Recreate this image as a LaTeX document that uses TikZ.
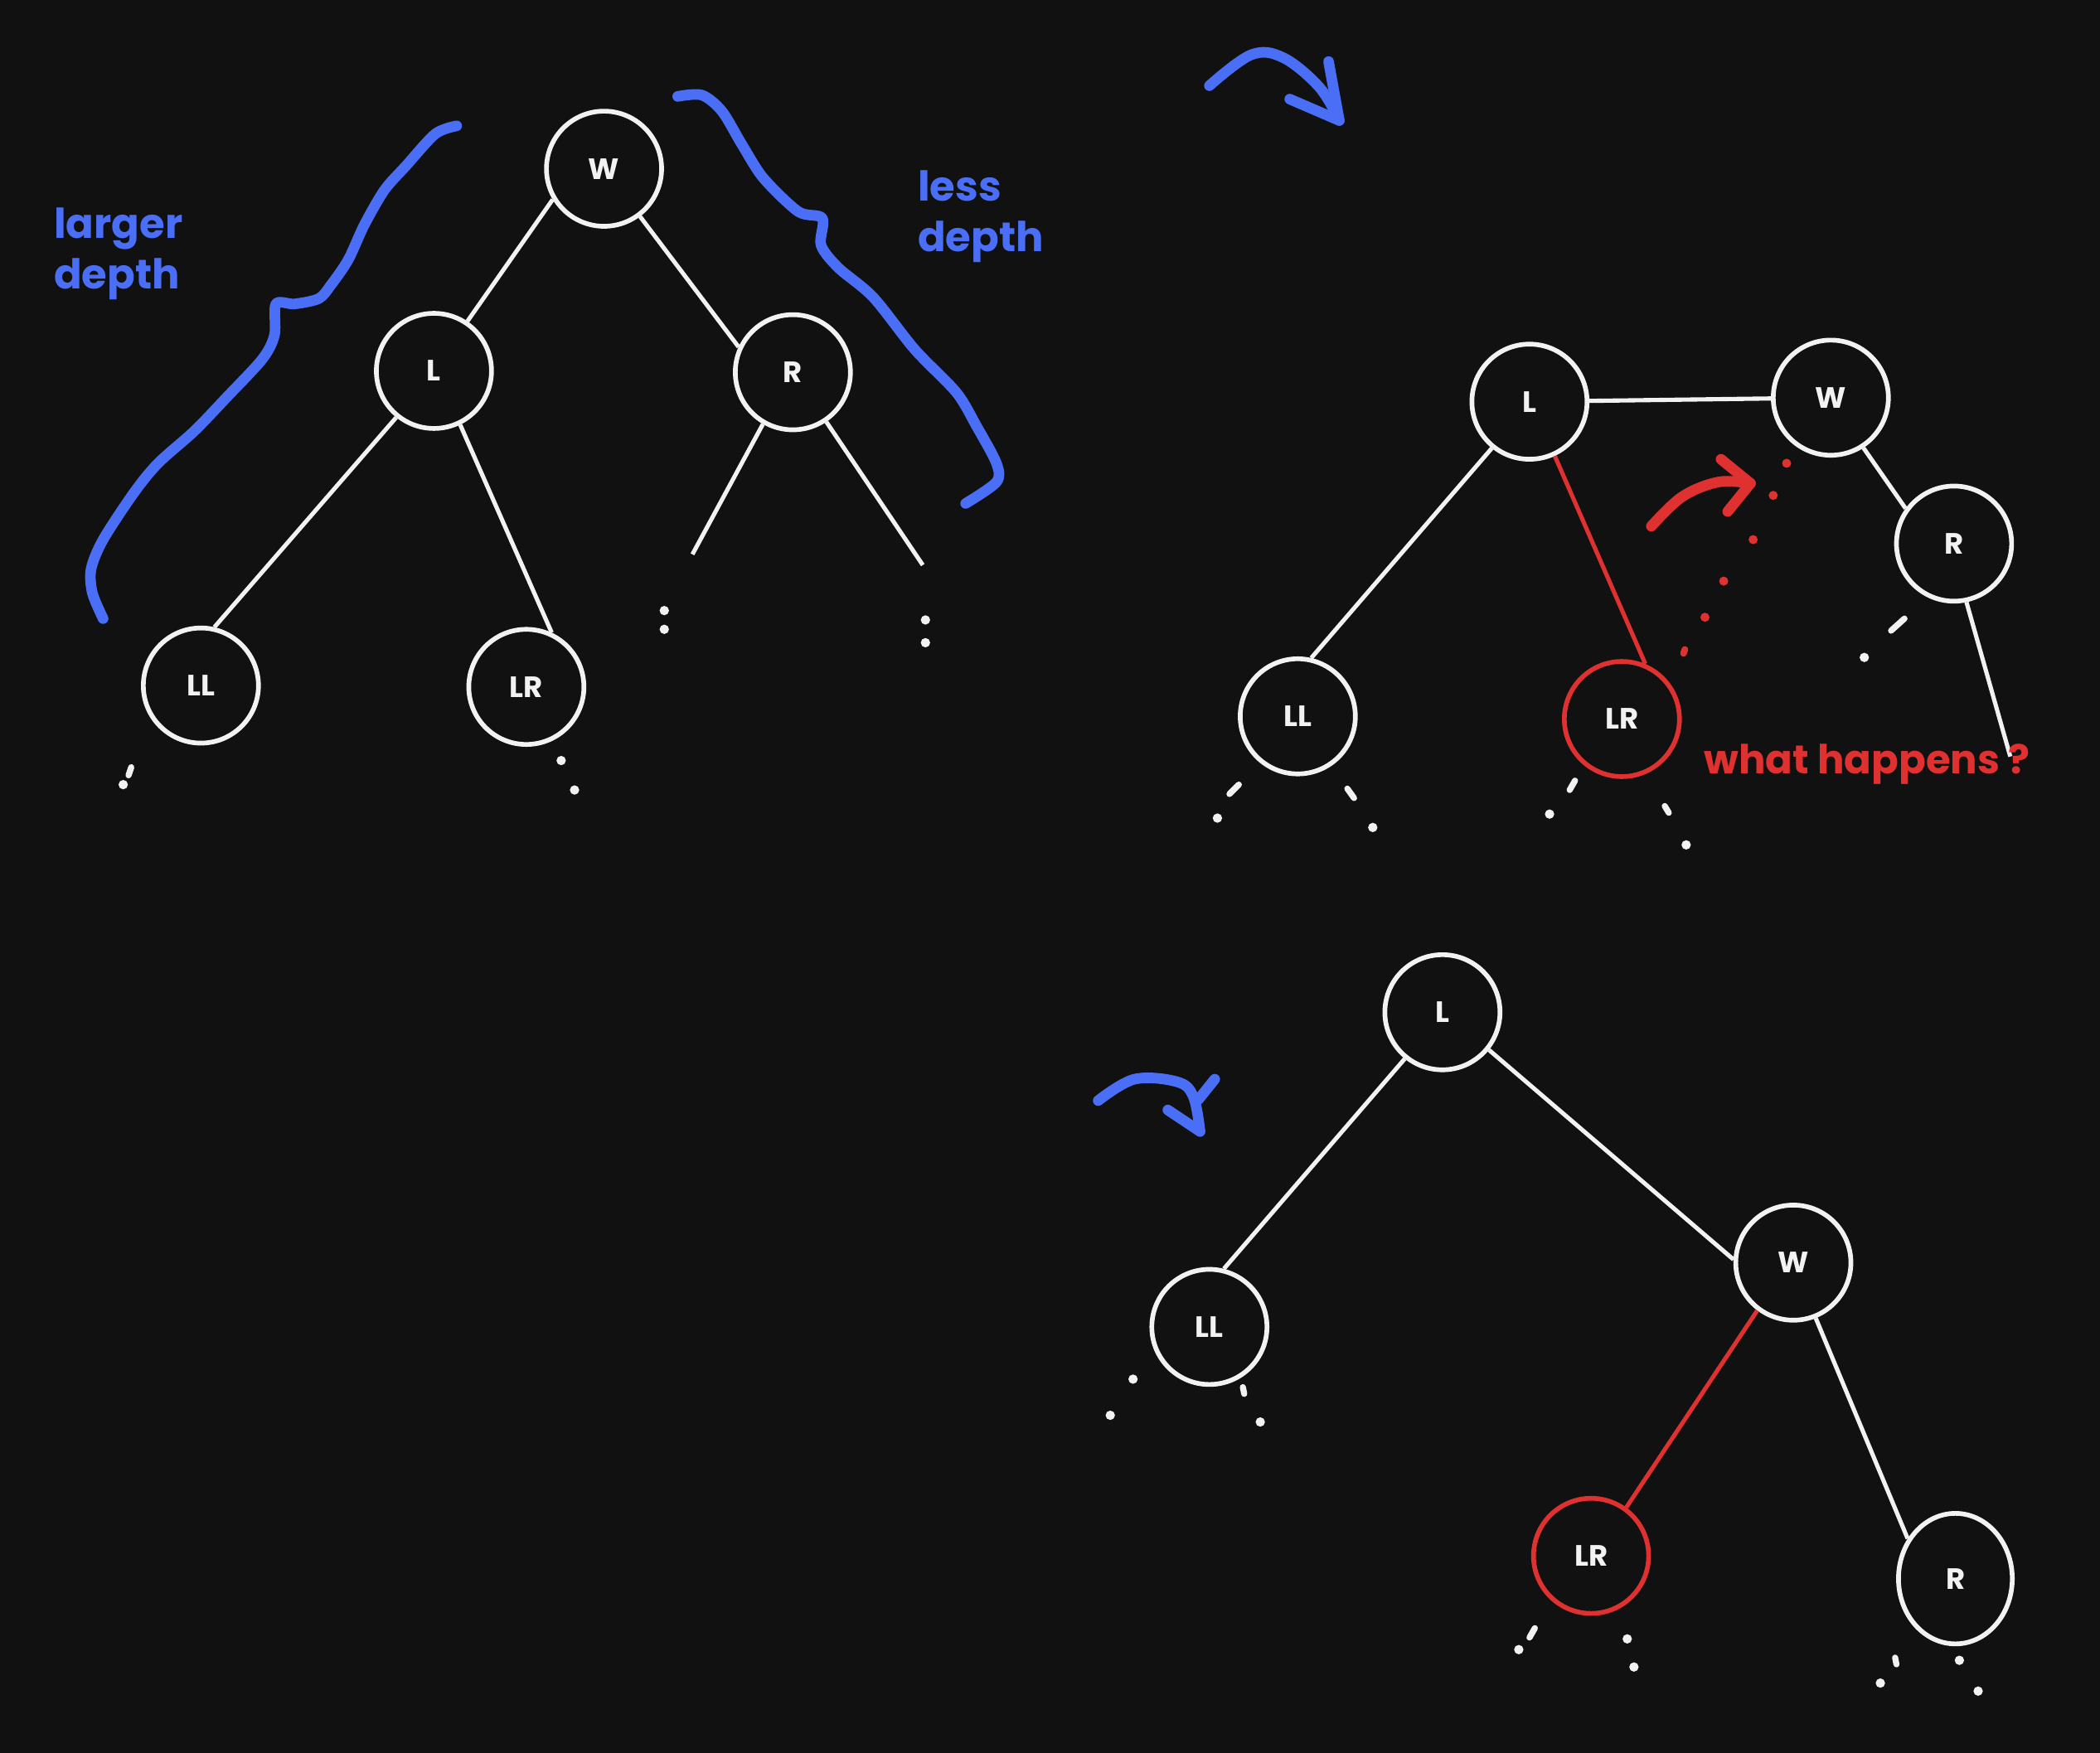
\documentclass[tikz,border=0pt]{standalone}
\usepackage{fontspec}
\setmainfont{Poppins}
\usetikzlibrary{shapes.geometric}
\definecolor{board}{HTML}{111111}
\definecolor{inkwhite}{HTML}{F2F2F2}
\definecolor{inkblue}{HTML}{4A6EF5}
\definecolor{inkred}{HTML}{E03131}
\tikzstyle{vertex}=[circle,draw=inkwhite,line width=2pt,minimum size=1.72cm,inner sep=0pt,text=inkwhite,font=\bfseries\fontsize{12.5}{14}\selectfont]
\tikzstyle{redvertex}=[vertex,draw=inkred]
\tikzstyle{edge} = [draw=inkwhite,line width=1.8pt]
\tikzstyle{rededge} = [draw=inkred,line width=1.8pt]
\tikzstyle{brace} = [draw=inkblue,line width=4.5pt,line cap=round,line join=round]
\tikzstyle{redarrow} = [draw=inkred,line width=4.5pt,line cap=round,line join=round]
\tikzstyle{note} = [text=inkblue,font=\bfseries\fontsize{17.5}{21.5}\selectfont,align=left,inner sep=0pt]
\tikzstyle{dot} = [fill=inkwhite]
\tikzstyle{tick} = [draw=inkwhite,line width=2.6pt,line cap=round]

\begin{document}
\begin{tikzpicture}[x=0.02cm,y=-0.02cm]
    \fill[board] (0,0) rectangle (1568,1309);
    \useasboundingbox (0,0) rectangle (1568,1309);

    % First tree: W on top
    \foreach \pos/ \name/ \lab in {{(451,126)/Wa/W},{(324,277)/La/L},{(592,278)/Ra/R},{(150,512)/LLa/LL},{(393,513)/LRa/LR}}
        \node[vertex] (\name) at \pos {\lab};
    \coordinate (RaL) at (517,414);
    \coordinate (RaR) at (689,422);

    \foreach \source/ \dest in {Wa.-149/La.56, Wa.-53/Ra.155, La.-129/LLa.77, La.-64/LRa.65, Ra.-120/RaL, Ra.-56/RaR}
        \path[edge] (\source) -- (\dest);

    % braces and notes
    \draw[brace] plot[smooth,tension=0.5] coordinates {(341,94) (325,100) (303,124) (287,142) (272,168) (260,194) (247,213) (238,223) (220,227) (206,227) (205,250) (196,268) (169,297) (145,322) (118,346) (100,368) (77,403) (68,425) (69,443) (77,462)};
    \draw[brace] plot[smooth,tension=0.5] coordinates {(506,72) (524,71) (539,83) (554,108) (570,133) (596,158) (614,163) (613,183) (626,200) (652,222) (683,261) (714,293) (729,318) (744,346) (744,360) (721,376)};
    \node[note,anchor=north west] (deep) at (40,155) {larger\\depth};
    \node[note,anchor=north west] (shallow) at (685,127) {less\\depth};

    % rotate arrow
    \draw[brace] plot[smooth,tension=0.6] coordinates {(903,64) (934,41) (958,43) (985,65) (1000,90)};
    \draw[brace] (992,46) -- (1000,90) -- (963,74);

    % Second tree: halfway through the rotation
    \foreach \pos/ \name/ \lab in {{(1142,300)/Lb/L},{(1367,297)/Wb/W},{(1459,406)/Rb/R},{(969,535)/LLb/LL}}
        \node[vertex] (\name) at \pos {\lab};
    \node[redvertex] (LRb) at (1211,537) {LR};
    \coordinate (RbR) at (1501,565);

    \foreach \source/ \dest in {Lb/Wb, Wb.-57/Rb.144, Lb.-129/LLb.77, Rb.-78/RbR}
        \path[edge] (\source) -- (\dest);
    \path[rededge] (Lb.-65) -- (LRb.67);

    \draw[redarrow] plot[smooth,tension=0.6] coordinates {(1233,393) (1256,371) (1283,360) (1307,361)};
    \draw[redarrow] (1285,343) -- (1307,361) -- (1290,382);
    \foreach \pos in {(1334,346),(1324,370),(1309,403),(1287,434),(1273,461)}
        \fill[inkred] \pos circle (3.4);
    \draw[inkred,line width=2.8pt,line cap=round] (1258,485) -- (1257,488);
    \node[text=inkred,font=\bfseries\fontsize{17}{20}\selectfont,anchor=base west,inner sep=0pt] (ask) at (1272,578) {what happens ?};

    % Third tree: after the rotation
    \foreach \pos/ \name/ \lab in {{(1077,756)/Lc/L},{(1339,943)/Wc/W},{(903,991)/LLc/LL}}
        \node[vertex] (\name) at \pos {\lab};
    \node[redvertex] (LRc) at (1188,1162) {LR};
    \node[vertex,ellipse,minimum width=1.7cm,minimum height=1.95cm] (Rc) at (1460,1179) {R};

    \foreach \source/ \dest in {Lc.-129/LLc.76, Lc.-39/Wc.177, Wc.-68/Rc.140}
        \path[edge] (\source) -- (\dest);
    \path[rededge] (Wc.-127) -- (LRc.54);

    \draw[brace] plot[smooth,tension=0.6] coordinates {(820,822) (847,806) (879,808) (891,819) (896,845)};
    \draw[brace] (907,806) -- (895,821);
    \draw[brace] (872,829) -- (896,845);

    % subtrees left out
    \foreach \pos in {(496,456),(496,470),(691,463),(691,480),(92,586),(419,568),(429,590),
                      (909,611),(1025,618),(1157,608),(1259,631),(1392,491),
                      (846,1030),(829,1057),(941,1062),(1134,1232),(1215,1224),(1220,1245),(1404,1257),(1463,1240),(1477,1263)}
        \fill[dot] \pos circle (3.5);
    \foreach \a/ \b in {{(98,573)}/{(96,579)}, {(925,586)}/{(918,593)}, {(1006,589)}/{(1011,596)}, {(1176,583)}/{(1172,590)}, {(1243,602)}/{(1246,607)}, {(1422,462)}/{(1412,471)},
                       {(928,1036)}/{(929,1041)}, {(1146,1216)}/{(1142,1223)}, {(1415,1238)}/{(1416,1243)}}
        \path[tick] \a -- \b;
\end{tikzpicture}
\end{document}
